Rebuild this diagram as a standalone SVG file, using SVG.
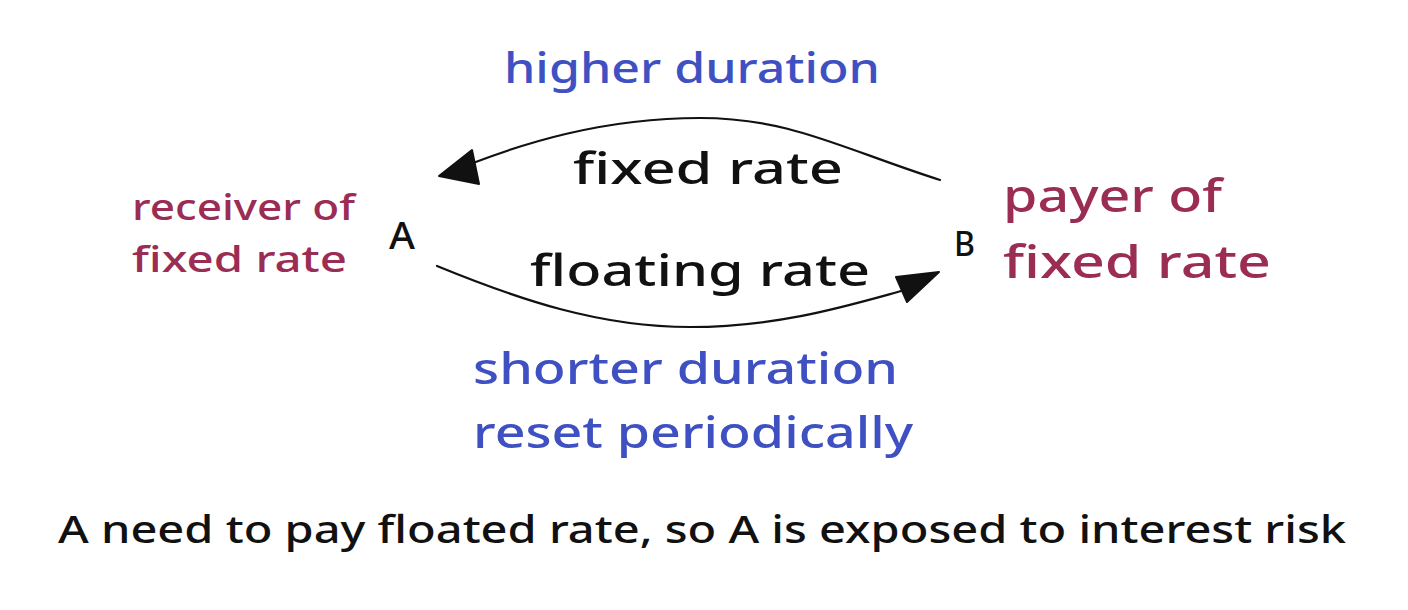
<svg xmlns="http://www.w3.org/2000/svg" width="1408" height="610" viewBox="0 0 1408 610">
<style>
text{font-family:"Noto Sans","Liberation Sans",sans-serif;font-weight:500}
.blue{fill:#3f51c2}
.maroon{fill:#9b2c53}
.black{fill:#111111}
.conn{fill:none;stroke:#111111;stroke-width:2.2;stroke-linecap:round}
.head{fill:#111111;stroke:#111111;stroke-width:2;stroke-linejoin:round}
</style>
<rect width="1408" height="610" fill="#ffffff"/>
<g id="connectors">
<g id="edge-fixed">
<path class="conn" d="M940 180 C 840 148, 790 118, 700 118 C 600 118, 520 145, 473 163"/>
<polygon class="head" points="439,176 472,150 479,184"/>
</g>
<g id="edge-floating">
<path class="conn" d="M437 266 C 520 300, 600 327, 690 327 C 780 327, 850 305, 905 290"/>
<polygon class="head" points="939,272 896,277 907,302"/>
</g>
</g>
<g id="label-higher"><text class="blue" x="504" y="83" font-size="42" textLength="376" lengthAdjust="spacingAndGlyphs">higher duration</text></g>
<g id="label-fixed"><text class="black" x="573" y="184" font-size="44" textLength="270" lengthAdjust="spacingAndGlyphs">fixed rate</text></g>
<g id="label-floating"><text class="black" x="530" y="286" font-size="44" textLength="340" lengthAdjust="spacingAndGlyphs">floating rate</text></g>
<g id="node-A-desc">
<text class="maroon" x="132" y="220" font-size="36" textLength="223" lengthAdjust="spacingAndGlyphs">receiver of</text>
<text class="maroon" x="132" y="272" font-size="36" textLength="215" lengthAdjust="spacingAndGlyphs">fixed rate</text>
</g>
<g id="node-A"><text class="black" x="389" y="249" font-size="38" textLength="26" lengthAdjust="spacingAndGlyphs">A</text></g>
<g id="node-B"><text class="black" x="954" y="256" font-size="34" textLength="21" lengthAdjust="spacingAndGlyphs">B</text></g>
<g id="node-B-desc">
<text class="maroon" x="1003" y="212" font-size="46" textLength="219" lengthAdjust="spacingAndGlyphs">payer of</text>
<text class="maroon" x="1003" y="278" font-size="46" textLength="268" lengthAdjust="spacingAndGlyphs">fixed rate</text>
</g>
<g id="label-shorter">
<text class="blue" x="473" y="384" font-size="44" textLength="425" lengthAdjust="spacingAndGlyphs">shorter duration</text>
<text class="blue" x="473" y="448" font-size="44" textLength="440" lengthAdjust="spacingAndGlyphs">reset periodically</text>
</g>
<g id="note"><text class="black" x="58" y="543" font-size="38" textLength="1288" lengthAdjust="spacingAndGlyphs">A need to pay floated rate, so A is exposed to interest risk</text></g>
</svg>
